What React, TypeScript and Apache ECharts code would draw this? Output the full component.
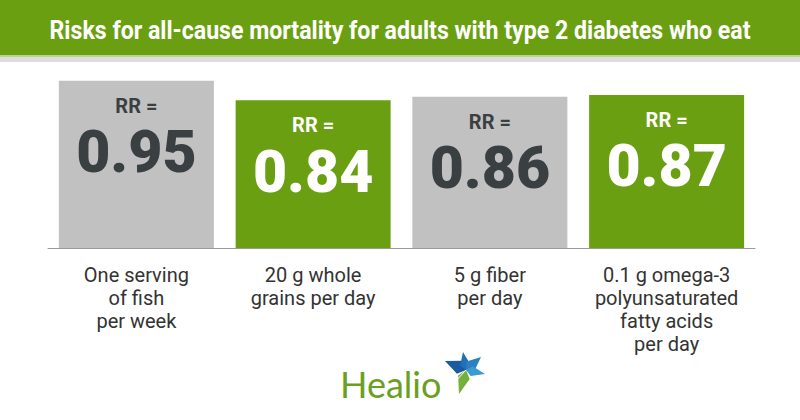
import React, { useEffect, useRef } from "react";
import * as echarts from "echarts";

const TITLE = "Risks for all-cause mortality for adults with type 2 diabetes who eat";
const categories = [
  "One serving\nof fish\nper week",
  "20 g whole\ngrains per day",
  "5 g fiber\nper day",
  "0.1 g omega-3\npolyunsaturated\nfatty acids\nper day",
];
const rrValues = [0.95, 0.84, 0.86, 0.87];
const barColors = ["#c1c1c1", "#6a9f11", "#c1c1c1", "#6a9f11"];
const labelColors = ["#3a3f42", "#ffffff", "#3a3f42", "#ffffff"];

export default function App() {
  const ref = useRef<HTMLDivElement>(null);
  useEffect(() => {
    if (!ref.current) return;
    const chart = echarts.init(ref.current, null, { renderer: "svg" });
    const cx = 466, cy = 370;
    const arm = (tx: number, ty: number, w: number, color: string) => {
      const dx = tx - cx, dy = ty - cy;
      const len = Math.sqrt(dx * dx + dy * dy);
      const nx = -dy / len, ny = dx / len;
      const mx = cx + dx * 0.3, my = cy + dy * 0.3;
      return {
        type: "polygon",
        shape: {
          points: [
            [cx, cy],
            [mx + nx * w, my + ny * w],
            [tx, ty],
            [mx - nx * w, my - ny * w],
          ],
        },
        style: { fill: color },
      };
    };
    chart.setOption({
      animation: false,
      backgroundColor: "#ffffff",
      graphic: [
        { type: "rect", shape: { x: 0, y: 0, width: 800, height: 55 }, style: { fill: "#6a9f11" } },
        { type: "rect", shape: { x: 0, y: 55, width: 800, height: 2 }, style: { fill: "#b9d58a" } },
        { type: "rect", shape: { x: 0, y: 57, width: 800, height: 5 }, style: { fill: "#dedcdf" } },
        {
          type: "text",
          x: 400,
          y: 30,
          scaleX: 0.89,
          style: {
            text: TITLE,
            fill: "#ffffff",
            font: "bold 26px Roboto",
            align: "center",
            verticalAlign: "middle",
          },
        },
        {
          type: "text",
          x: 340,
          y: 384,
          style: {
            text: "Healio",
            fill: "#6a9f1f",
            font: "36px Lato",
            align: "left",
            verticalAlign: "middle",
          },
        },
        arm(445, 361, 7, "#1b5a9c"),
        arm(463, 352, 5, "#2070b5"),
        arm(481, 357, 6, "#2a80c0"),
        arm(485, 374, 5, "#3a9bd0"),
        arm(459, 394, 6, "#74b03a"),
        {
          type: "line",
          shape: { x1: cx, y1: cy, x2: 453, y2: 384 },
          style: { stroke: "#ffffff", lineWidth: 1 },
        },
      ],
      grid: { left: 48, right: 45, top: 72, bottom: 172 },
      xAxis: {
        type: "category",
        data: categories,
        axisLine: { lineStyle: { color: "#9a9a9a", width: 1 } },
        axisTick: { show: false },
        axisLabel: {
          interval: 0,
          color: "#333333",
          fontFamily: "Roboto",
          fontSize: 20,
          lineHeight: 23,
          margin: 15,
          align: "center",
        },
      },
      yAxis: { type: "value", min: 0, max: 1, show: false, splitLine: { show: false } },
      series: [
        {
          type: "bar",
          barWidth: 155,
          data: rrValues.map((v, i) => ({
            value: v,
            itemStyle: { color: barColors[i] },
            label: {
              show: true,
              position: "insideTop",
              distance: 10,
              formatter: "{rr|RR =}\n{v|" + v.toFixed(2) + "}",
              color: labelColors[i],
              rich: {
                rr: { fontFamily: "Roboto", fontWeight: "bold", fontSize: 20, lineHeight: 30, color: labelColors[i], align: "center" },
                v: { fontFamily: "Roboto", fontWeight: 900, fontSize: 59, lineHeight: 62, color: labelColors[i], align: "center" },
              },
            },
          })),
        },
      ],
    });
    return () => chart.dispose();
  }, []);
  return (
    <div
      ref={ref}
      style={{ position: "absolute", left: 0, top: 0, width: 800, height: 420 }}
    />
  );
}
